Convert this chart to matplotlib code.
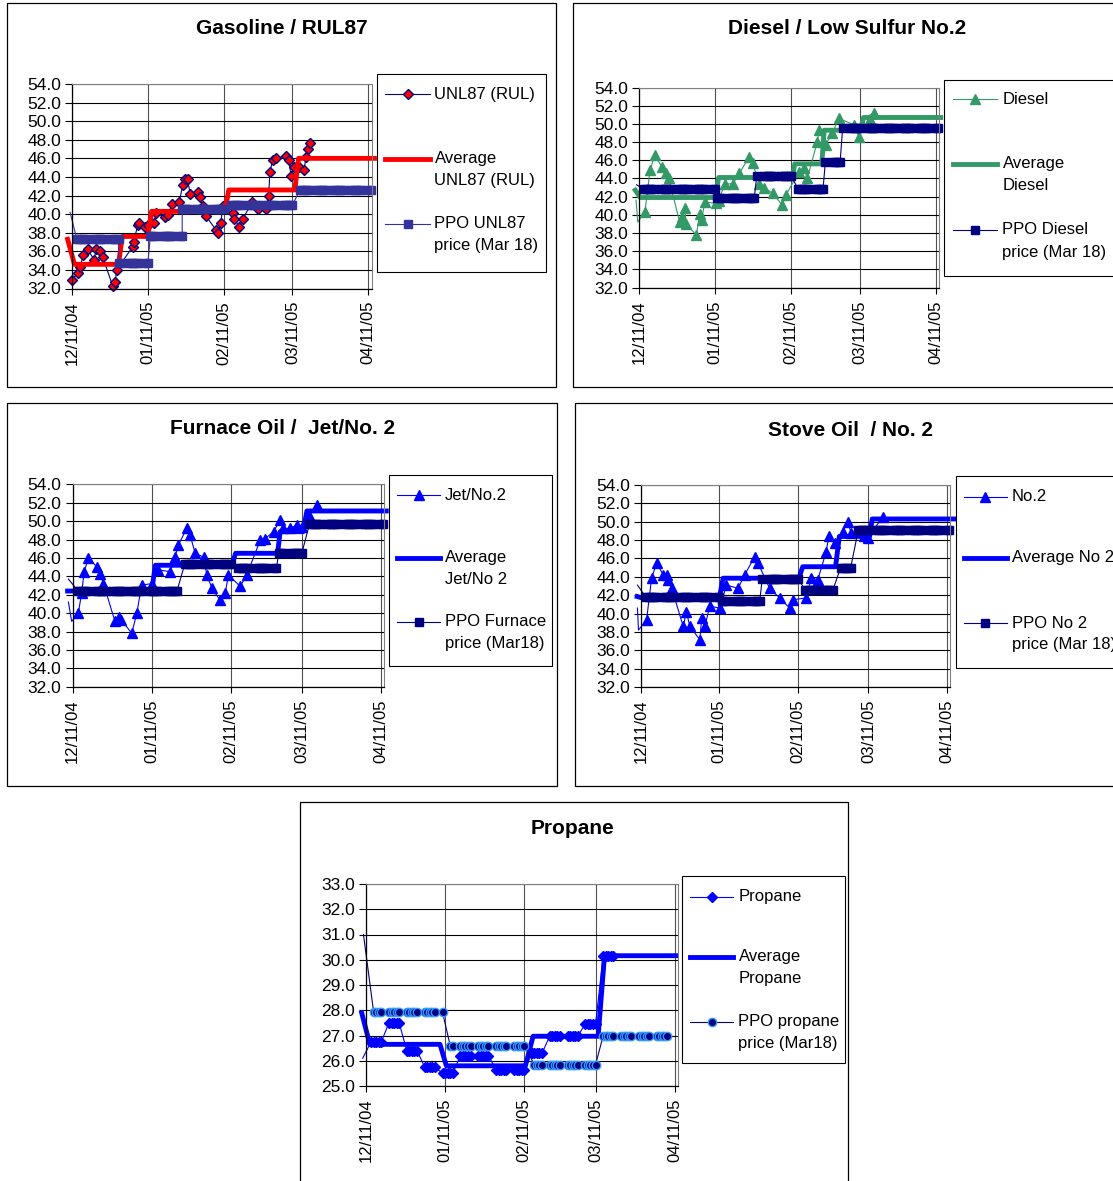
import datetime as dt
import numpy as np
import matplotlib
matplotlib.use("Agg")
import matplotlib.pyplot as plt
import matplotlib.dates as mdates
from matplotlib.patches import Rectangle
from matplotlib.ticker import MultipleLocator, FormatStrFormatter

plt.rcParams['font.family'] = ['Liberation Sans', 'DejaVu Sans']

W, H = 1113, 1181
BASE = mdates.date2num(dt.datetime(2004, 12, 11))   # day 0 (a Saturday)

# ---- Gasoline / RUL87 (day offsets from 12/11/04, cents/L) ----
gas_days = [0, 2.3, 3.3, 4.6, 6.4, 9, 10, 11.5, 12.5, 16.6, 17.7, 18.2, 24.8, 25.2,
            26.8, 27.5, 29.9, 30.9, 33.6, 34.3, 38, 39, 41, 43.8, 45.2, 46.3, 47.2,
            48.2, 51.3, 52.2, 53.3, 54.7, 58.8, 59.5, 60.8, 61.5, 65.6, 66.3, 68.3,
            69.7, 73.7, 75.8, 79.2, 80.3, 80.8, 81.9, 83.5, 87.3, 88.7, 89.4, 90.7,
            92.8, 94.8, 95.5, 96.2, 97.1]
gas_vals = [32.9, 33.7, 34.3, 35.6, 36.2, 35.1, 36.3, 36.0, 35.4, 32.3, 32.7, 34.0,
            36.5, 37.0, 38.8, 39.0, 38.6, 38.8, 39.0, 40.1, 39.7, 39.9, 41.1, 41.3,
            43.1, 43.8, 43.8, 42.2, 42.4, 41.8, 40.9, 39.8, 38.3, 38.0, 39.0, 40.9,
            40.1, 39.5, 38.6, 39.5, 41.3, 40.6, 40.6, 41.9, 44.5, 45.8, 46.0, 46.3,
            45.8, 44.1, 45.1, 45.1, 44.8, 46.1, 47.0, 47.6]
gas_avg_days = [-1.8, 1, 19, 20.5, 31, 32.5, 62.5, 64, 91, 92.5, 123.5]
gas_avg_vals = [37.3, 34.6, 34.6, 37.6, 37.6, 40.3, 40.3, 42.6, 42.6, 46.0, 46.0]
gas_ppo_first = (-0.8, 40.2)
gas_ppo_start = [1, 19, 32, 45, 64, 92]
gas_ppo_end = [19, 31, 45, 62, 91, 122]
gas_ppo_level = [37.3, 34.75, 37.65, 40.5, 40.95, 42.6]

# ---- Diesel / Low Sulfur No.2 ----
dsl_days = [-1.2, -0.5, 2.4, 4.5, 6.5, 9.2, 11.2, 12.1, 16.6, 17.5, 18.6, 19.3, 23.4,
            24.7, 25.5, 26.8, 31.5, 32.5, 34.9, 38.2, 40.9, 45, 46.4, 49, 51, 54.5,
            58.5, 59.9, 65.3, 67.3, 68.6, 72.7, 73.4, 76.1, 78.8, 81.5, 87.6, 89.6,
            94, 95.7]
dsl_vals = [41.6, 39.2, 40.3, 44.9, 46.6, 45.3, 44.6, 44.0, 39.2, 39.8, 40.7, 39.0,
            37.75, 40.1, 39.4, 41.4, 41.25, 41.5, 43.4, 43.4, 44.55, 46.4, 45.65, 43.4,
            43.0, 42.35, 41.05, 42.2, 44.7, 45.1, 44.0, 48.05, 49.3, 47.7, 49.0, 50.6,
            49.9, 48.6, 50.5, 51.2]
dsl_avg_days = [-1.5, 0.5, 31, 32.5, 62.5, 63.5, 74.5, 75.5, 90.5, 91.5, 123]
dsl_avg_vals = [42.7, 41.9, 41.9, 44.1, 44.1, 45.6, 45.6, 49.3, 49.3, 50.7, 50.7]
dsl_ppo_first = (-1.0, 43.3)
dsl_ppo_start = [1, 32, 48, 64, 76, 83]
dsl_ppo_end = [31, 47, 62, 75, 82, 122]
dsl_ppo_level = [42.8, 41.9, 44.25, 42.8, 45.85, 49.5]

# ---- Furnace Oil / Jet/No. 2 ----
fur_days = [-1.7, -0.4, 2.2, 3.5, 4.5, 6.2, 9.4, 10.7, 12.1, 16.6, 18.0, 19.0, 23.2,
            25.2, 27.1, 31.1, 33.7, 38.3, 40.2, 41.5, 44.8, 46.1, 48.1, 51.4, 52.7,
            54.7, 57.9, 59.9, 61.2, 65.8, 68.4, 73.7, 75.6, 78.9, 81.5, 82.8, 85.4,
            88.1, 90.0, 92.7, 95.9]
fur_vals = [41.2, 39.1, 40.0, 42.15, 44.5, 46.0, 45.05, 44.3, 43.2, 39.1, 39.6, 39.3,
            37.8, 40.0, 43.05, 43.2, 44.7, 44.5, 46.1, 47.4, 49.2, 48.5, 46.5, 46.1,
            44.15, 42.7, 41.4, 42.15, 44.15, 42.9, 44.15, 47.95, 48.1, 48.85, 50.1,
            49.2, 49.2, 49.6, 49.4, 50.7, 51.75]
fur_avg_days = [-2.0, 31, 32.5, 62.5, 64, 80.5, 81.5, 90.5, 92, 123.2]
fur_avg_vals = [42.4, 42.4, 45.2, 45.2, 46.5, 46.5, 48.85, 48.85, 51.1, 51.1]
fur_ppo_first = (-1.7, 43.7)
fur_ppo_start = [0, 43, 65, 81, 92]
fur_ppo_end = [42, 62, 80, 90, 122]
fur_ppo_level = [42.45, 45.3, 44.95, 46.5, 49.65]

# ---- Stove Oil / No. 2 ----
stv_days = [-1.4, -1.0, 2.2, 4.2, 6.2, 8.8, 10.1, 10.8, 12.1, 16.7, 18.0, 19.3, 23.3,
            24.0, 25.3, 27.2, 31.2, 33.8, 38.4, 41.0, 45.0, 46.3, 50.9, 54.9, 58.8,
            60.1, 65.4, 67.4, 70.0, 73.3, 74.3, 76.6, 79.9, 81.8, 83.2, 88.4, 89.7,
            95.7]
stv_vals = [40.6, 38.2, 39.3, 43.85, 45.5, 44.2, 44.2, 43.7, 42.8, 38.6, 40.2, 38.6,
            37.15, 39.5, 38.6, 40.8, 40.6, 43.1, 42.75, 44.2, 46.2, 45.5, 42.75, 41.7,
            40.6, 41.5, 41.7, 43.85, 43.7, 46.75, 48.4, 47.65, 48.9, 50.0, 48.75, 48.4,
            48.2, 50.55]
stv_avg_days = [-1.5, 0.5, 31, 32.5, 62.5, 64, 77, 78.5, 90.5, 91.5, 124]
stv_avg_vals = [41.85, 41.7, 41.7, 43.85, 43.85, 45.1, 45.1, 48.4, 48.4, 50.3, 50.3]
stv_ppo_first = (-1.4, 43.1)
stv_ppo_start = [0, 32, 48, 65, 78, 86]
stv_ppo_end = [31, 47, 62, 77, 85, 122]
stv_ppo_level = [41.75, 41.4, 43.8, 42.6, 45.0, 49.1]

# ---- Propane (weekly posted price) ----
prp_first = (-1.3, 26.1)
prp_week_start = [2, 9, 16, 23, 30, 37, 44, 51, 58, 65, 72, 79, 86, 93]
prp_week_vals = [26.75, 27.5, 26.4, 25.75, 25.5, 26.2, 26.2, 25.65, 25.65, 26.3,
                 26.97, 26.97, 27.47, 30.16]
prp_avg_days = [-1.7, 1.5, 29, 31.5, 62.5, 65.5, 91, 93.5, 121.5]
prp_avg_vals = [27.9, 26.65, 26.65, 25.8, 25.8, 26.97, 26.97, 30.16, 30.16]
prp_ppo_first = (-1.0, 31.0)
prp_ppo_start = [3, 33, 66, 93]
prp_ppo_end = [30, 62, 90, 119]
prp_ppo_level = [27.92, 26.6, 25.85, 27.0]


def weekday(d):
    return d % 7 in (2, 3, 4, 5, 6)


def step_points(first, starts, ends, levels):
    xs, ys = [first[0]], [first[1]]
    for s, e, v in zip(starts, ends, levels):
        for d in range(s, e + 1):
            if weekday(d):
                xs.append(d)
                ys.append(v)
    return BASE + np.array(xs, float), np.array(ys)


def weekly_points(first, week_start, week_vals):
    xs, ys = [first[0]], [first[1]]
    for s, v in zip(week_start, week_vals):
        for d in range(s, s + 5):
            xs.append(d)
            ys.append(v)
    return BASE + np.array(xs, float), np.array(ys)


fig = plt.figure(figsize=(W / 100, H / 100), dpi=100)
fig.patch.set_facecolor('white')


def add_panel(box, ymin, ymax, ystep):
    x0, y0, x1, y1 = box
    ax = fig.add_axes([x0 / W, 1 - y1 / H, (x1 - x0) / W, (y1 - y0) / H])
    ax.set_xlim(BASE, BASE + 122.3)
    ax.set_ylim(ymin, ymax)
    ax.yaxis.set_major_locator(MultipleLocator(ystep))
    ax.yaxis.set_major_formatter(FormatStrFormatter('%.1f'))
    ax.xaxis.set_major_locator(mdates.MonthLocator(bymonthday=11))
    ax.xaxis.set_major_formatter(mdates.DateFormatter('%m/%d/%y'))
    ax.tick_params(axis='x', labelrotation=90, direction='out', length=4,
                   width=0.8, labelsize=12, pad=5)
    ax.tick_params(axis='y', direction='out', length=5, width=0.8,
                   labelsize=12.5, pad=3)
    ax.grid(axis='y', color='black', lw=0.8)
    ax.grid(axis='x', color='#505050', lw=0.8)
    ax.set_axisbelow(True)
    for s in ('top', 'right'):
        ax.spines[s].set_color('#808080')
    for s in ('left', 'bottom'):
        ax.spines[s].set_linewidth(0.9)
    return ax


NAVY = '#000080'
RAW_BLUE = dict(color='#0000FF', lw=0.8, marker='^', ms=7.2, mfc='#0000FF', mec='#0000FF')
AVG_BLUE = dict(color='#0000FF', lw=3.5)
PPO_NAVY = dict(color=NAVY, lw=0.8, marker='s', ms=5.8, mfc=NAVY, mec=NAVY)

gas_style = [dict(color=NAVY, lw=0.8, marker='D', ms=5.2, mfc='#FF0000', mec=NAVY, mew=1),
             dict(color='#FF0000', lw=3.5),
             dict(color='#333399', lw=0.8, marker='s', ms=5.8, mfc='#333399', mec='#333399')]
dsl_style = [dict(color='#339966', lw=0.8, marker='^', ms=7.2, mfc='#339966', mec='#339966'),
             dict(color='#339966', lw=3.5),
             PPO_NAVY]
fur_style = [RAW_BLUE, AVG_BLUE, PPO_NAVY]
stv_style = [RAW_BLUE, AVG_BLUE, PPO_NAVY]
prp_style = [dict(color='#0000FF', lw=0.8, marker='D', ms=4.8, mfc='#0000FF', mec='#0000FF'),
             AVG_BLUE,
             dict(color=NAVY, lw=0.8, marker='o', ms=6.0, mfc=NAVY, mec='#3399FF', mew=1.0)]


def draw_series(ax, raw, avg, ppo, styles):
    # points dated before 12/11/04 only feed the line, no marker is shown there
    for (xs, ys), st in zip((raw, avg, ppo), styles):
        show = list(np.asarray(xs) >= BASE)
        ax.plot(xs, ys, clip_on=False, markevery=show, **st)


# gasoline
ax = add_panel((72, 84, 371.5, 288.5), 32, 54, 2)
draw_series(ax, (BASE + np.array(gas_days), gas_vals),
            (BASE + np.array(gas_avg_days), gas_avg_vals),
            step_points(gas_ppo_first, gas_ppo_start, gas_ppo_end, gas_ppo_level),
            gas_style)

# diesel
ax = add_panel((639, 87.5, 939, 287.5), 32, 54, 2)
draw_series(ax, (BASE + np.array(dsl_days), dsl_vals),
            (BASE + np.array(dsl_avg_days), dsl_avg_vals),
            step_points(dsl_ppo_first, dsl_ppo_start, dsl_ppo_end, dsl_ppo_level),
            dsl_style)

# furnace oil
ax = add_panel((72.7, 484.3, 384, 686.7), 32, 54, 2)
draw_series(ax, (BASE + np.array(fur_days), fur_vals),
            (BASE + np.array(fur_avg_days), fur_avg_vals),
            step_points(fur_ppo_first, fur_ppo_start, fur_ppo_end, fur_ppo_level),
            fur_style)

# stove oil
ax = add_panel((641, 485, 950, 687), 32, 54, 2)
draw_series(ax, (BASE + np.array(stv_days), stv_vals),
            (BASE + np.array(stv_avg_days), stv_avg_vals),
            step_points(stv_ppo_first, stv_ppo_start, stv_ppo_end, stv_ppo_level),
            stv_style)

# propane
ax = add_panel((366, 884, 678, 1086), 25, 33, 1)
draw_series(ax, weekly_points(prp_first, prp_week_start, prp_week_vals),
            (BASE + np.array(prp_avg_days), prp_avg_vals),
            step_points(prp_ppo_first, prp_ppo_start, prp_ppo_end, prp_ppo_level),
            prp_style)

# overlay in pixel coordinates: chart borders, titles, legends
ov = fig.add_axes([0, 0, 1, 1])
ov.set_xlim(0, W)
ov.set_ylim(H, 0)
ov.axis('off')
ov.patch.set_alpha(0)

borders = [(7, 3, 556, 387), (573, 3, 1125, 387), (7, 403, 557, 786),
           (575, 403, 1125, 786), (300, 802, 848, 1195)]
for x0, y0, x1, y1 in borders:
    ov.add_patch(Rectangle((x0, y0), x1 - x0, y1 - y0, fill=False,
                           edgecolor='black', lw=0.9))

titles = [(282, 29, 'Gasoline / RUL87'), (847, 29, 'Diesel / Low Sulfur No.2'),
          (283, 429, 'Furnace Oil /  Jet/No. 2'), (850, 430, 'Stove Oil  / No. 2'),
          (573, 829, 'Propane')]
for cx, cy, t in titles:
    ov.text(cx, cy, t, ha='center', va='center', fontsize=15, fontweight='bold')


def draw_legend(box, rows_y, sample_x, text_x, labels, styles):
    x0, y0, x1, y1 = box
    ov.add_patch(Rectangle((x0, y0), x1 - x0, y1 - y0, facecolor='white',
                           edgecolor='black', lw=0.8))
    sx = [sample_x[0], (sample_x[0] + sample_x[1]) / 2, sample_x[1]]
    for y, lab, st in zip(rows_y, labels, styles):
        ov.plot(sx, [y, y, y], markevery=[1], **st)
        for i, line in enumerate(lab):
            ov.text(text_x, y + 22 * i, line, ha='left', va='center', fontsize=12)


draw_legend((376.5, 74, 546, 271.5), (94, 159, 223.5), (385, 430), 434.5,
            [['UNL87 (RUL)'], ['Average', 'UNL87 (RUL)'], ['PPO UNL87', 'price (Mar 18)']],
            gas_style)
draw_legend((944, 80, 1125, 276), (99, 163.5, 230), (953, 997), 1002.5,
            [['Diesel'], ['Average', 'Diesel'], ['PPO Diesel', 'price (Mar 18)']],
            dsl_style)
draw_legend((388.5, 475, 552, 666), (495, 557.5, 621.5), (397, 440), 445,
            [['Jet/No.2'], ['Average', 'Jet/No 2'], ['PPO Furnace', 'price (Mar18)']],
            fur_style)
draw_legend((956, 476, 1125, 668), (496.5, 557.5, 623), (963.5, 1007), 1011.5,
            [['No.2'], ['Average No 2'], ['PPO No 2', 'price (Mar 18)']],
            stv_style)
draw_legend((682, 875.5, 845, 1063), (896.5, 957, 1021.5), (690, 733), 738.5,
            [['Propane'], ['Average', 'Propane'], ['PPO propane', 'price (Mar18)']],
            prp_style)

fig.savefig('out.png', dpi=100)
